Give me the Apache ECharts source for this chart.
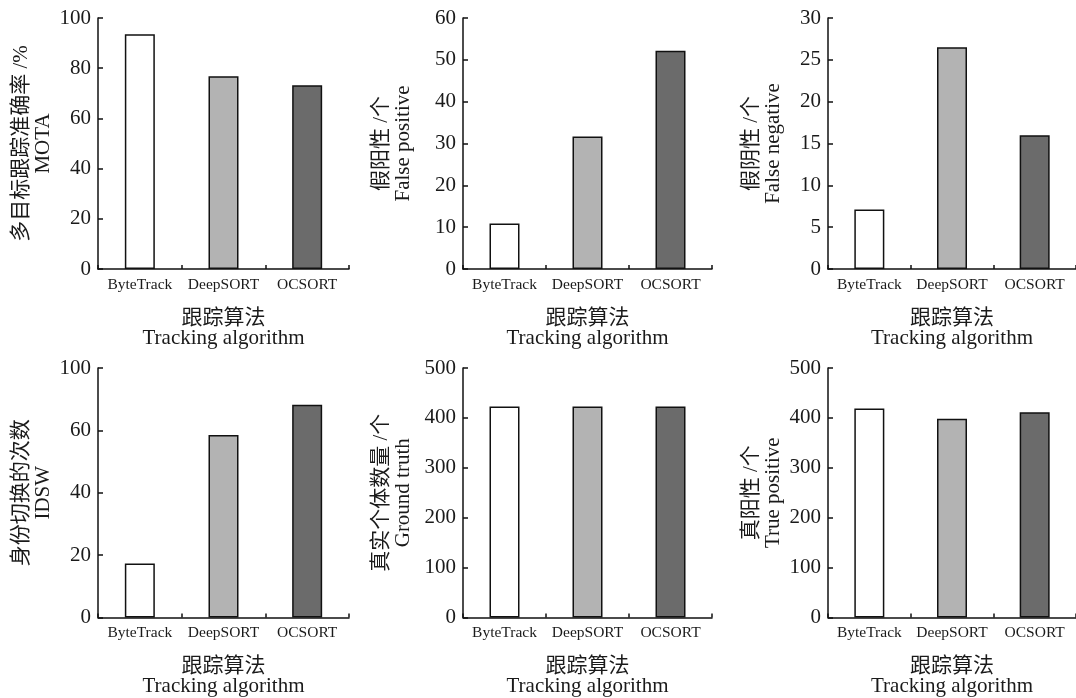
<!DOCTYPE html>
<html>
<head>
<meta charset="utf-8">
<script src="https://cdn.jsdelivr.net/npm/echarts@6/dist/echarts.min.js"></script>
<style>
html,body{margin:0;padding:0;background:#fff;}
#c{width:1076px;height:698px;}
</style>
</head>
<body>
<div id="c"></div>
<script>
// ---- data ----
var categories = ['ByteTrack', 'DeepSORT', 'OCSORT'];
var motaValues = [93.5, 76.8, 73.2];
var fpValues = [10.9, 31.7, 52.2];
var fnValues = [7.1, 26.5, 16.0];
var idswValues = [17.3, 58.5, 68.2];
var gtValues = [423, 423, 423];
var tpValues = [419, 398.5, 411.5];

var motaTicks = ['0', '20', '40', '60', '80', '100'];
var fpTicks = ['0', '10', '20', '30', '40', '50', '60'];
var fnTicks = ['0', '5', '10', '15', '20', '25', '30'];
var idswTicks = ['0', '20', '40', '60', '100'];
var gtTicks = ['0', '100', '200', '300', '400', '500'];
var tpTicks = ['0', '100', '200', '300', '400', '500'];

var xName = '跟踪算法\nTracking algorithm';

// ---- styling / layout ----
var barColors = ['#ffffff', '#b3b3b3', '#6b6b6b'];
var FONT = "'Liberation Serif', 'Noto Sans CJK SC', serif";
var TXT = '#1a1a1a';

var panels = [
  {vals: motaValues, ticks: motaTicks, max: 100, step: 20, yName: '多目标跟踪准确率 /%\nMOTA', gap: 44, grid: {left: 98, top: 18, width: 251, height: 251}},
  {vals: fpValues, ticks: fpTicks, max: 60, step: 10, yName: '假阳性 /个\nFalse positive', gap: 49, grid: {left: 463, top: 18, width: 249, height: 251}},
  {vals: fnValues, ticks: fnTicks, max: 30, step: 5, yName: '假阴性 /个\nFalse negative', gap: 44, grid: {left: 828, top: 18, width: 248, height: 251}},
  {vals: idswValues, ticks: idswTicks, max: 80, step: 20, yName: '身份切换的次数\nIDSW', gap: 44, grid: {left: 98, top: 368, width: 251, height: 251}},
  {vals: gtValues, ticks: gtTicks, max: 500, step: 100, yName: '真实个体数量 /个\nGround truth', gap: 49, grid: {left: 463, top: 368, width: 249, height: 251}},
  {vals: tpValues, ticks: tpTicks, max: 500, step: 100, yName: '真阳性 /个\nTrue positive', gap: 44, grid: {left: 828, top: 368, width: 248, height: 251}}
];

var grids = [], xAxes = [], yAxes = [], series = [];
panels.forEach(function (p, i) {
  grids.push(Object.assign({containLabel: false}, p.grid));
  xAxes.push({
    type: 'category', gridIndex: i, data: categories,
    boundaryGap: true,
    axisLine: {lineStyle: {color: '#111', width: 1.5}},
    axisTick: {show: true, inside: true, length: 4, lineStyle: {color: '#111', width: 1.5}},
    axisLabel: {color: TXT, fontFamily: FONT, fontSize: 15.5, margin: 8, interval: 0, hideOverlap: false},
    name: xName, nameLocation: 'middle', nameGap: 39,
    nameTextStyle: {color: TXT, fontFamily: FONT, fontSize: 21, lineHeight: 20}
  });
  (function (ticks, step) {
    yAxes.push({
      type: 'value', gridIndex: i, min: 0, max: p.max, interval: step,
      axisLine: {show: true, lineStyle: {color: '#111', width: 1.5}},
      axisTick: {show: true, inside: true, length: 5, lineStyle: {color: '#111', width: 1.5}},
      splitLine: {show: false},
      axisLabel: {
        color: TXT, fontFamily: FONT, fontSize: 21, margin: 7,
        formatter: function (v) { var k = Math.round(v / step); return ticks[k] !== undefined ? ticks[k] : String(v); }
      },
      name: p.yName, nameLocation: 'middle', nameRotate: 90, nameGap: p.gap,
      nameTextStyle: {color: TXT, fontFamily: FONT, fontSize: 21, lineHeight: 22}
    });
  })(p.ticks, p.step);
  series.push({
    type: 'bar', xAxisIndex: i, yAxisIndex: i, barWidth: 30,
    data: p.vals,
    itemStyle: {
      borderColor: '#111', borderWidth: 1.5,
      color: function (param) { return barColors[param.dataIndex]; }
    },
    animation: false
  });
});

var chart = echarts.init(document.getElementById('c'), null, {renderer: 'canvas'});
chart.setOption({
  backgroundColor: '#ffffff',
  animation: false,
  grid: grids,
  xAxis: xAxes,
  yAxis: yAxes,
  series: series
});
</script>
</body>
</html>
